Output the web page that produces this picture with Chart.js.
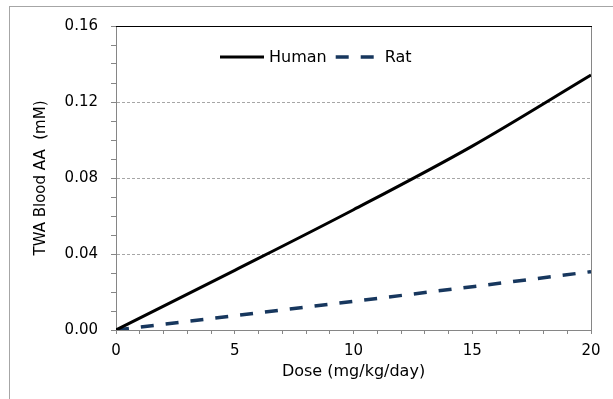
<!DOCTYPE html>
<html>
<head>
<meta charset="utf-8">
<script src="https://cdn.jsdelivr.net/npm/chart.js@4.4.0/dist/chart.umd.min.js"></script>
<style>
  html, body { margin: 0; background: #fff; }
  .wrap { position: relative; width: 613px; height: 399px; overflow: hidden; }
  .frame { position: absolute; left: 9px; top: 6px; width: 1000px; height: 1000px; border-left: 1px solid #a6a6a6; border-top: 1px solid #a6a6a6; }
  canvas { position: absolute; left: 0; top: 0; }
</style>
</head>
<body>
<div class="wrap">
  <div class="frame"></div>
  <canvas id="chart" width="613" height="399" aria-label="TWA blood AA versus dose"></canvas>
</div>
<script>
const doses = [0, 5, 10, 15, 20];
const humanTWA = [0, 0.0314, 0.0633, 0.0968, 0.1342];
const ratTWA = [0, 0.0075, 0.0151, 0.0228, 0.0307];
const seriesNames = ["Human", "Rat"];
const xTitle = "Dose (mg/kg/day)";
const yTitle = "TWA Blood AA  (mM)";

const FONT = "'DejaVu Sans', sans-serif";
const AXIS_GRAY = "#868686";

const toPoints = (ys) => doses.map((d, i) => ({ x: d, y: ys[i] }));

// legend sits inside the plot area, like the original
const insideLegend = {
  id: "insideLegend",
  afterDatasetsDraw(chart) {
    const { ctx, chartArea } = chart;
    const y = chartArea.top + 31;
    let x = chartArea.left + 104;
    ctx.save();
    ctx.font = "16px " + FONT;
    ctx.textBaseline = "middle";
    ctx.fillStyle = "#000";
    chart.data.datasets.forEach((ds) => {
      ctx.strokeStyle = ds.borderColor;
      ctx.lineWidth = ds.borderWidth;
      ctx.setLineDash(ds.borderDash || []);
      ctx.beginPath();
      ctx.moveTo(x, y);
      ctx.lineTo(x + 44, y);
      ctx.stroke();
      ctx.fillText(ds.label, x + 49, y + 1);
      x += 49 + ctx.measureText(ds.label).width + 9;
    });
    ctx.restore();
  },
};

const plotFrame = {
  id: "plotFrame",
  afterDraw(chart) {
    const { ctx, chartArea: a } = chart;
    ctx.save();
    ctx.lineWidth = 1;
    ctx.strokeStyle = "#000";
    ctx.beginPath();
    ctx.moveTo(a.left, a.top + 0.5);
    ctx.lineTo(a.right + 1, a.top + 0.5);
    ctx.stroke();
    ctx.strokeStyle = AXIS_GRAY;
    ctx.beginPath();
    ctx.moveTo(a.right + 0.5, a.top + 1);
    ctx.lineTo(a.right + 0.5, a.bottom);
    ctx.stroke();
    ctx.restore();
  },
};

new Chart(document.getElementById("chart"), {
  type: "line",
  data: {
    datasets: [
      {
        label: seriesNames[0],
        data: toPoints(humanTWA),
        borderColor: "#000000",
        borderWidth: 3,
        pointRadius: 0,
        cubicInterpolationMode: "monotone",
      },
      {
        label: seriesNames[1],
        data: toPoints(ratTWA),
        borderColor: "#17375e",
        borderWidth: 3.5,
        borderDash: [13, 12],
        pointRadius: 0,
        cubicInterpolationMode: "monotone",
      },
    ],
  },
  options: {
    responsive: false,
    animation: false,
    devicePixelRatio: 1,
    layout: { padding: { top: 26, right: 22, bottom: 9, left: 0 } },
    plugins: {
      legend: { display: false },
      tooltip: { enabled: false },
    },
    scales: {
      x: {
        type: "linear",
        min: 0,
        max: 20,
        afterFit: (s) => { s.height = 60; },
        ticks: {
          stepSize: 1,
          autoSkip: false,
          maxRotation: 0,
          padding: 8,
          color: "#000",
          font: { family: FONT, size: 15 },
          callback: (v) => (v % 5 === 0 ? String(v) : ""),
        },
        grid: {
          drawOnChartArea: false,
          tickLength: 4,
          tickColor: AXIS_GRAY,
        },
        border: { display: true, color: AXIS_GRAY },
        title: {
          display: true,
          text: xTitle,
          color: "#000",
          font: { family: FONT, size: 16 },
          padding: { top: 0, bottom: 9 },
        },
      },
      y: {
        min: 0,
        max: 0.16,
        afterFit: (s) => { s.width = 116; },
        ticks: {
          stepSize: 0.01,
          autoSkip: false,
          padding: 13,
          color: "#000",
          font: { family: FONT, size: 15 },
          callback: (v) => (Math.round(v * 100) % 4 === 0 ? v.toFixed(2) : ""),
        },
        grid: {
          tickLength: 5,
          tickColor: AXIS_GRAY,
          color: (c) => {
            if (!c.tick) return "rgba(0,0,0,0)";
            const k = Math.round(c.tick.value * 100);
            return k % 4 === 0 && k > 0 && k < 16 ? "#a6a6a6" : "rgba(0,0,0,0)";
          },
        },
        border: { display: true, color: AXIS_GRAY, dash: [3, 2] },
        title: {
          display: true,
          text: yTitle,
          color: "#000",
          font: { family: FONT, size: 15 },
          padding: { top: 32, bottom: 0 },
        },
      },
    },
  },
  plugins: [insideLegend, plotFrame],
});
</script>
</body>
</html>
